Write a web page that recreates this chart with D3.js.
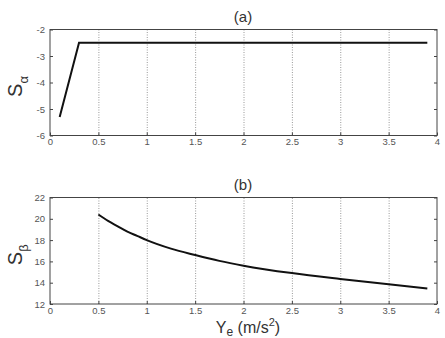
<!DOCTYPE html>
<html>
<head>
<meta charset="utf-8">
<script src="https://cdn.jsdelivr.net/npm/d3@7"></script>
<style>
  body { margin: 0; background: #fff; }
  svg { display: block; font-family: Arial, "Liberation Sans", sans-serif; }
  .tick text { fill: #555; font-size: 9.5px; }
  .axis path, .axis line { stroke: #444; }
  .grid line { stroke: #999; stroke-dasharray: 1,1.5; }
</style>
</head>
<body>
<div class="svg-container"></div>
<script>
// data for panel (a)
var xTicks = [0, 0.5, 1, 1.5, 2, 2.5, 3, 3.5, 4];
var alphaX = [0.1, 0.3, 0.6, 3.9];
var alphaY = [-5.3, -2.5, -2.5, -2.5];
var alphaTicks = [-6, -5, -4, -3, -2];

// data for panel (b)
var betaX = [0.5, 0.6, 0.7, 0.8, 0.9, 1.0, 1.25, 1.5, 1.75, 2.0, 2.5, 3.0, 3.5, 3.9];
var betaY = [20.4, 19.8, 19.3, 18.8, 18.4, 18.0, 17.2, 16.6, 16.05, 15.6, 14.9, 14.35, 13.85, 13.45];
var betaTicks = [12, 14, 16, 18, 20, 22];

var svg = d3.select(".svg-container").append("svg")
    .attr("width", 445)
    .attr("height", 338);

var left = 50, right = 437;
var xScale = d3.scaleLinear().domain([0, 4]).range([left, right]);

function panel(top, bottom, yDomain, yTicks, xs, ys, curve, title, sub) {
    var yScale = d3.scaleLinear().domain(yDomain).range([bottom, top]);
    var g = svg.append("g");

    // dotted vertical grid
    g.append("g")
        .attr("class", "grid")
        .attr("transform", "translate(0," + bottom + ")")
        .call(d3.axisBottom(xScale).tickValues(xTicks.slice(1, -1)).tickSize(-(bottom - top)).tickFormat(""))
        .select(".domain").remove();

    // frame
    g.append("rect")
        .attr("x", left).attr("y", top)
        .attr("width", right - left).attr("height", bottom - top)
        .attr("fill", "none").attr("stroke", "#444");

    g.append("g")
        .attr("class", "axis")
        .attr("transform", "translate(0," + bottom + ")")
        .call(d3.axisBottom(xScale).tickValues(xTicks).tickSize(-3).tickPadding(3)
            .tickFormat(function (d) { return d; }));

    g.append("g")
        .attr("class", "axis")
        .attr("transform", "translate(" + left + ",0)")
        .call(d3.axisLeft(yScale).tickValues(yTicks).tickSize(-3).tickPadding(5)
            .tickFormat(function (d) { return d; }));

    g.append("g")
        .attr("class", "axis")
        .attr("transform", "translate(" + right + ",0)")
        .call(d3.axisRight(yScale).tickValues(yTicks).tickSize(-3).tickFormat(""));

    g.selectAll(".axis .domain").remove();

    var pts = xs.map(function (x, i) { return [x, ys[i]]; });
    var line = d3.line()
        .curve(curve)
        .x(function (d) { return xScale(d[0]); })
        .y(function (d) { return yScale(d[1]); });
    g.append("path")
        .attr("d", line(pts))
        .attr("fill", "none")
        .attr("stroke", "#111")
        .attr("stroke-width", 2);

    g.append("text")
        .attr("x", 243).attr("y", top - 8)
        .attr("text-anchor", "middle")
        .attr("font-size", 15)
        .attr("fill", "#333")
        .text(title);

    var lab = g.append("text")
        .attr("transform", "translate(22," + ((top + bottom) / 2 + 4) + ") rotate(-90)")
        .attr("text-anchor", "middle")
        .attr("font-size", 20)
        .attr("fill", "#333");
    lab.append("tspan").text("S");
    lab.append("tspan").attr("font-size", 13).attr("dy", 6).text(sub);
    return yScale;
}

panel(29.5, 135.5, [-6, -2], alphaTicks, alphaX, alphaY, d3.curveLinear, "(a)", "α");
panel(197.5, 304, [12, 22], betaTicks, betaX, betaY, d3.curveMonotoneX, "(b)", "β");

// x label
var xl = svg.append("text")
    .attr("x", 248).attr("y", 333)
    .attr("text-anchor", "middle")
    .attr("font-size", 16)
    .attr("fill", "#333");
xl.append("tspan").text("Y");
xl.append("tspan").attr("font-size", 12).attr("dy", 3).text("e");
xl.append("tspan").attr("dy", -3).text(" (m/s");
xl.append("tspan").attr("font-size", 11).attr("dy", -7).text("2");
xl.append("tspan").attr("dy", 7).text(")");
</script>
</body>
</html>
